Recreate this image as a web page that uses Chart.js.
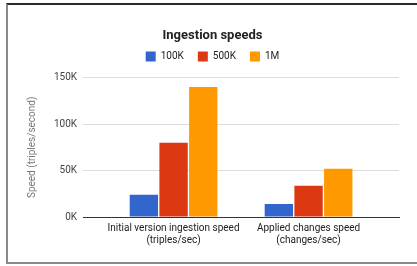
<!DOCTYPE html>
<html>
<head>
<meta charset="utf-8">
<script src="https://cdn.jsdelivr.net/npm/chart.js@4/dist/chart.umd.min.js"></script>
<style>
  html, body { margin: 0; padding: 0; background: #fff; }
  #wrap { position: relative; width: 417px; height: 266px; overflow: hidden; }
  #frame { position: absolute; left: 6px; top: 3px; width: 420px; height: 261px;
           border-top: 2px solid #2a2a2a; border-left: 2px solid #8a8a8a; border-bottom: 2px solid #8a8a8a; box-sizing: border-box; }
  canvas { position: absolute; left: 0; top: 0; }
</style>
</head>
<body>
<div id="wrap">
  <canvas id="c" width="417" height="266"></canvas>
  <div id="frame"></div>
</div>
<script>
const categories = [
  ["Initial version ingestion speed", "(triples/sec)"],
  ["Applied changes speed", "(changes/sec)"]
];
const seriesNames = ["100K", "500K", "1M"];
const series100K = [24000, 14000];
const series500K = [80000, 33500];
const series1M = [140000, 52000];
const yTickValues = [0, 50000, 100000, 150000];
const colors = ["#3366cc", "#dc3912", "#ff9900"];

const allSeries = [series100K, series500K, series1M];
const datasets = allSeries.map((vals, i) => ({
  label: seriesNames[i],
  data: vals.map((v, j) => ({ x: j, y: v })),
  backgroundColor: colors[i],
  borderWidth: 0,
  categoryPercentage: 0.66,
  barPercentage: 0.955
}));

const legendGap = {
  id: 'legendGap',
  beforeUpdate(chart) {
    const lg = chart.legend;
    if (lg && !lg._gapPatched) {
      const orig = lg.fit;
      lg.fit = function () { orig.call(this); this.height += 6; };
      lg._gapPatched = true;
    }
  }
};

new Chart(document.getElementById('c'), {
  type: 'bar',
  data: { datasets },
  plugins: [legendGap],
  options: {
    responsive: false,
    animation: false,
    devicePixelRatio: 1,
    layout: { padding: { top: 28, right: 18, bottom: 14, left: 26 } },
    plugins: {
      title: {
        display: true,
        text: 'Ingestion speeds',
        color: '#222',
        font: { family: 'Roboto', size: 13, weight: 'bold' },
        padding: { top: 0, bottom: -6 }
      },
      legend: {
        display: true,
        labels: {
          boxWidth: 10, boxHeight: 10, padding: 14,
          color: '#222',
          font: { family: 'Roboto', size: 10 }
        }
      },
      tooltip: { enabled: false }
    },
    scales: {
      x: {
        type: 'linear',
        offset: false,
        min: -0.67,
        max: 1.67,
        afterBuildTicks: s => { s.ticks = categories.map((c, i) => ({ value: i })); },
        ticks: {
          callback: v => categories[v],
          color: '#222',
          font: { family: 'Roboto', size: 10 },
          padding: 5.5,
          maxRotation: 0,
          autoSkip: false
        },
        grid: { display: false, drawTicks: false },
        border: { display: true, color: '#333', width: 1 }
      },
      y: {
        min: 0,
        max: 150000,
        afterBuildTicks: s => { s.ticks = yTickValues.map(v => ({ value: v })); },
        ticks: {
          callback: v => (v / 1000) + 'K',
          color: '#444',
          font: { family: 'Roboto', size: 10 },
          padding: 6
        },
        grid: { color: '#dcdcdc', drawTicks: false },
        border: { display: false },
        title: {
          display: true,
          text: 'Speed (triples/second)',
          color: '#777',
          font: { family: 'Roboto', size: 10 },
          padding: { top: 0, bottom: 10 }
        }
      }
    }
  }
});
</script>
</body>
</html>
